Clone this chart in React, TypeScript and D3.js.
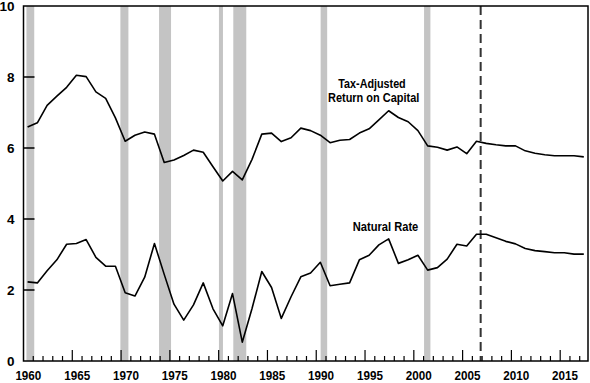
import React from "react";
import * as d3 from "d3";

const years = d3.range(1960, 2018);
const taxAdjusted = [
  6.59, 6.71, 7.2, 7.46, 7.71, 8.05, 8.01, 7.58, 7.4, 6.85,
  6.19, 6.36, 6.45, 6.39, 5.59, 5.66, 5.79, 5.94, 5.88, 5.47,
  5.07, 5.34, 5.1, 5.68, 6.39, 6.42, 6.18, 6.29, 6.56, 6.49,
  6.36, 6.15, 6.22, 6.24, 6.42, 6.54, 6.79, 7.05, 6.86, 6.74,
  6.49, 6.06, 6.02, 5.94, 6.03, 5.84, 6.19, 6.13, 6.09, 6.06,
  6.06, 5.92, 5.85, 5.81, 5.78, 5.78, 5.78, 5.75,
];
const naturalRate = [
  2.23, 2.2, 2.54, 2.85, 3.29, 3.31, 3.42, 2.92, 2.67, 2.67,
  1.92, 1.83, 2.36, 3.31, 2.44, 1.6, 1.15, 1.58, 2.2, 1.47,
  0.99, 1.9, 0.53, 1.48, 2.52, 2.07, 1.2, 1.81, 2.37, 2.48,
  2.78, 2.12, 2.16, 2.2, 2.85, 2.98, 3.27, 3.44, 2.75, 2.85,
  2.98, 2.56, 2.63, 2.87, 3.29, 3.24, 3.57, 3.57, 3.47, 3.37,
  3.3, 3.17, 3.11, 3.08, 3.05, 3.05, 3.01, 3.01,
];
const recessions: [number, number][] = [
  [1960.3, 1961.1],
  [1969.93, 1970.75],
  [1973.89, 1975.12],
  [1980.03, 1980.44],
  [1981.5, 1982.83],
  [1990.45, 1991.12],
  [2001.05, 2001.7],
];
const projectionStart = 2006.85;
const yTicks = [0, 2, 4, 6, 8, 10];
const xLabelYears = [1960, 1965, 1970, 1975, 1980, 1985, 1990, 1995, 2000, 2005, 2010, 2015];
const minorYears = d3.range(1961, 2018);
const taxLabel = ["Tax-Adjusted", "Return on Capital"];
const naturalLabel = "Natural Rate";

const FONT = "'Liberation Sans', Arial, sans-serif";

export default function App() {
  const W = 590;
  const H = 383;
  const left = 23.5;
  const right = 588;
  const top = 6;
  const bottom = 361;
  const x = d3.scaleLinear().domain([1960, 2017.85]).range([left, right]);
  const y = d3.scaleLinear().domain([0, 10]).range([bottom, top]);
  const offset = 0.42;
  const line = d3
    .line<number>()
    .x((_, i) => x(years[i] + offset))
    .y((d) => y(d));

  return (
    <svg
      width={W}
      height={H}
      style={{ position: "absolute", left: 0, top: 0, background: "#fff" }}
      fontFamily={FONT}
    >
      {recessions.map(([a, b], i) => (
        <rect key={i} x={x(a)} y={top} width={x(b) - x(a)} height={bottom - top} fill="#c4c4c4" />
      ))}
      <line
        x1={x(projectionStart)}
        x2={x(projectionStart)}
        y1={top}
        y2={bottom}
        stroke="#333"
        strokeWidth={2}
        strokeDasharray="9,5"
      />
      <path d={line(taxAdjusted) || ""} fill="none" stroke="#000" strokeWidth={1.6} strokeLinejoin="round" />
      <path d={line(naturalRate) || ""} fill="none" stroke="#000" strokeWidth={1.6} strokeLinejoin="round" />
      <rect x={left} y={top} width={right - left} height={bottom - top} fill="none" stroke="#000" strokeWidth={1.5} />
      {yTicks.map((t) => (
        <g key={t}>
          {t > 0 && t < 10 && (
            <line x1={left} x2={left + 11} y1={y(t)} y2={y(t)} stroke="#000" strokeWidth={1.5} />
          )}
          <text x={14.5} y={y(t)} dy="0.36em" textAnchor="end" fontSize={13.5} fontWeight="bold" fill="#000">
            {t}
          </text>
        </g>
      ))}
      {minorYears.map((yr) => (
        <line
          key={yr}
          x1={x(yr)}
          x2={x(yr)}
          y1={bottom}
          y2={bottom - (yr % 5 === 0 ? 11 : 5)}
          stroke="#000"
          strokeWidth={1.2}
        />
      ))}
      {xLabelYears.map((yr) => (
        <text
          key={yr}
          x={x(yr + 0.5)}
          y={374.7}
          dy="0.36em"
          textAnchor="middle"
          fontSize={13.5}
          fontWeight="bold"
          fill="#000"
          textLength={26}
          lengthAdjust="spacingAndGlyphs"
        >
          {yr}
        </text>
      ))}
      <text x={338.3} y={87.5} fontSize={13.5} fontWeight="bold" textLength={67.4} lengthAdjust="spacingAndGlyphs">
        {taxLabel[0]}
      </text>
      <text x={328} y={101.8} fontSize={13.5} fontWeight="bold" textLength={91.3} lengthAdjust="spacingAndGlyphs">
        {taxLabel[1]}
      </text>
      <text x={352.7} y={230.8} fontSize={13.5} fontWeight="bold" textLength={65.6} lengthAdjust="spacingAndGlyphs">
        {naturalLabel}
      </text>
    </svg>
  );
}
